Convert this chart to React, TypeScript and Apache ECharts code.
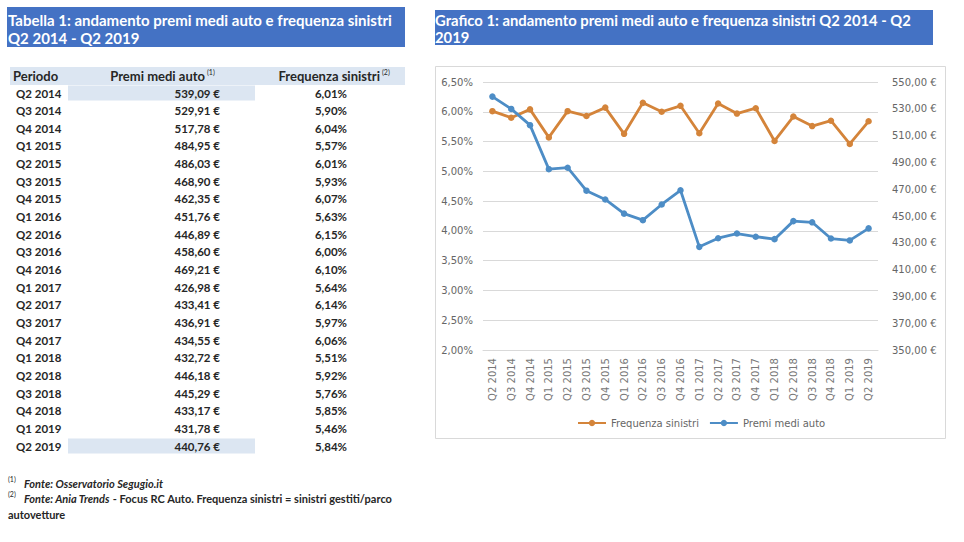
import React, { useEffect, useRef } from 'react';
import * as echarts from 'echarts';

const periods = [
  'Q2 2014', 'Q3 2014', 'Q4 2014', 'Q1 2015', 'Q2 2015', 'Q3 2015', 'Q4 2015',
  'Q1 2016', 'Q2 2016', 'Q3 2016', 'Q4 2016', 'Q1 2017', 'Q2 2017', 'Q3 2017',
  'Q4 2017', 'Q1 2018', 'Q2 2018', 'Q3 2018', 'Q4 2018', 'Q1 2019', 'Q2 2019',
];
const premiMedi = [
  539.09, 529.91, 517.78, 484.95, 486.03, 468.9, 462.35, 451.76, 446.89, 458.6,
  469.21, 426.98, 433.41, 436.91, 434.55, 432.72, 446.18, 445.29, 433.17, 431.78, 440.76,
];
const frequenza = [
  6.01, 5.9, 6.04, 5.57, 6.01, 5.93, 6.07, 5.63, 6.15, 6.0, 6.1, 5.64, 6.14, 5.97,
  6.06, 5.51, 5.92, 5.76, 5.85, 5.46, 5.84,
];
const tableTitle = 'Tabella 1: andamento premi medi auto e frequenza sinistri\nQ2 2014 - Q2 2019';
const chartTitle = 'Grafico 1: andamento premi medi auto e frequenza sinistri Q2 2014 - Q2\n2019';
const headers = ['Periodo', 'Premi medi auto', 'Frequenza sinistri'];

const ORANGE = '#D4843A';
const BLUE = '#4D8DC6';
const TITLE_BLUE = '#4472C4';
const HEAD_BG = '#DCE6F2';
const FONT = 'Lato, "Open Sans", sans-serif';
const AXFONT = '"DejaVu Sans", sans-serif';

const fmt = (v: number) => v.toFixed(2).replace('.', ',');

export default function App() {
  const ref = useRef<HTMLDivElement>(null);
  useEffect(() => {
    document.body.style.margin = '0';
    const chart = echarts.init(ref.current!, null, { renderer: 'svg' });

    const rowY = (i: number) => 93 + i * 17.65;
    const graphics: any[] = [];
    // titles
    graphics.push({ type: 'rect', shape: { x: 7, y: 7, width: 398, height: 40 }, style: { fill: TITLE_BLUE }, silent: true });
    graphics.push({ type: 'text', x: 8, y: 11, style: { text: tableTitle, fill: '#fff', font: `bold 15px ${FONT}`, lineHeight: 18, verticalAlign: 'top' } });
    graphics.push({ type: 'rect', shape: { x: 435, y: 10, width: 498, height: 35 }, style: { fill: TITLE_BLUE }, silent: true });
    graphics.push({ type: 'text', x: 435, y: 11, style: { text: chartTitle, fill: '#fff', font: `bold 14.8px ${FONT}`, lineHeight: 17, verticalAlign: 'top' } });
    // chart border
    graphics.push({ type: 'rect', shape: { x: 435.5, y: 66.5, width: 510, height: 372 }, style: { fill: 'none', stroke: '#D9D9D9', lineWidth: 1 }, silent: true });
    // table header
    graphics.push({ type: 'rect', shape: { x: 10, y: 67, width: 395, height: 18 }, style: { fill: HEAD_BG }, silent: true });
    graphics.push({ type: 'text', x: 13, y: 76, style: { text: headers[0], fill: '#262626', font: `bold 13px ${FONT}`, verticalAlign: 'middle' } });
    graphics.push({ type: 'text', x: 205, y: 76, style: { text: headers[1], fill: '#262626', font: `bold 13px ${FONT}`, align: 'right', verticalAlign: 'middle' } });
    graphics.push({ type: 'text', x: 207, y: 72, style: { text: '(1)', fill: '#262626', font: `7px ${FONT}`, verticalAlign: 'middle' } });
    graphics.push({ type: 'text', x: 380, y: 76, style: { text: headers[2], fill: '#262626', font: `bold 13px ${FONT}`, align: 'right', verticalAlign: 'middle' } });
    graphics.push({ type: 'text', x: 382, y: 72, style: { text: '(2)', fill: '#262626', font: `7px ${FONT}`, verticalAlign: 'middle' } });
    // highlight cells
    [0, periods.length - 1].forEach((i) => {
      graphics.push({ type: 'rect', shape: { x: 68, y: rowY(i) - 7.5, width: 187, height: 15 }, style: { fill: HEAD_BG }, silent: true });
    });
    periods.forEach((p, i) => {
      const y = rowY(i);
      graphics.push({ type: 'text', x: 16, y, style: { text: p, fill: '#262626', font: `bold 11.5px ${FONT}`, verticalAlign: 'middle' } });
      graphics.push({ type: 'text', x: 220, y, style: { text: `${fmt(premiMedi[i])} €`, fill: '#262626', font: `bold 11.5px ${FONT}`, align: 'right', verticalAlign: 'middle' } });
      graphics.push({ type: 'text', x: 347, y, style: { text: `${fmt(frequenza[i])}%`, fill: '#262626', font: `bold 11.5px ${FONT}`, align: 'right', verticalAlign: 'middle' } });
    });
    // footnotes
    graphics.push({ type: 'text', x: 8, y: 479, style: { text: '(1)', fill: '#262626', font: `7px ${FONT}`, verticalAlign: 'middle' } });
    graphics.push({ type: 'text', x: 24, y: 483, style: { text: 'Fonte: Osservatorio Segugio.it', fill: '#262626', font: `italic bold 11px ${FONT}`, verticalAlign: 'middle' } });
    graphics.push({ type: 'text', x: 8, y: 494, style: { text: '(2)', fill: '#262626', font: `7px ${FONT}`, verticalAlign: 'middle' } });
    graphics.push({
      type: 'text', x: 24, y: 498,
      style: {
        text: '{i|Fonte: Ania Trends}{b| - Focus RC Auto. Frequenza sinistri = sinistri gestiti/parco}',
        rich: {
          i: { fill: '#262626', font: `italic bold 11px ${FONT}` },
          b: { fill: '#262626', font: `bold 11px ${FONT}` },
        },
        verticalAlign: 'middle',
      },
    });
    graphics.push({ type: 'text', x: 8, y: 514, style: { text: 'autovetture', fill: '#262626', font: `bold 11px ${FONT}`, verticalAlign: 'middle' } });

    chart.setOption({
      animation: false,
      backgroundColor: '#fff',
      grid: { left: 483, right: 86, top: 82, bottom: 192, containLabel: false },
      legend: {
        left: 572, top: 413, itemWidth: 28, itemHeight: 8, itemGap: 10,
        textStyle: { fontSize: 10, color: '#666', fontFamily: AXFONT },
        data: ['Frequenza sinistri', 'Premi medi auto'],
      },
      xAxis: {
        type: 'category', data: periods, boundaryGap: true,
        axisLine: { show: true, lineStyle: { color: '#D9D9D9' } },
        axisTick: { show: false },
        axisLabel: { rotate: 90, interval: 0, fontSize: 10, color: '#777', margin: 8, fontFamily: AXFONT },
      },
      yAxis: [
        {
          type: 'value', min: 2, max: 6.5, interval: 0.5, position: 'left',
          axisLine: { show: false }, axisTick: { show: false },
          splitLine: { lineStyle: { color: '#D9D9D9' } },
          axisLabel: { formatter: (v: number) => `${fmt(v)}%`, fontSize: 10, color: '#666', margin: 10, fontFamily: AXFONT },
        },
        {
          type: 'value', min: 350, max: 550, interval: 20, position: 'right',
          axisLine: { show: false }, axisTick: { show: false },
          splitLine: { show: false },
          axisLabel: { formatter: (v: number) => `${fmt(v)} €`, fontSize: 10, color: '#666', margin: 14, fontFamily: AXFONT },
        },
      ],
      series: [
        {
          name: 'Frequenza sinistri', type: 'line', yAxisIndex: 0, data: frequenza,
          color: ORANGE, lineStyle: { width: 2.8 }, symbol: 'circle', symbolSize: 6.5,
        },
        {
          name: 'Premi medi auto', type: 'line', yAxisIndex: 1, data: premiMedi,
          color: BLUE, lineStyle: { width: 2.8 }, symbol: 'circle', symbolSize: 6.5,
        },
      ],
      graphic: graphics,
    });
    return () => chart.dispose();
  }, []);
  return <div ref={ref} style={{ position: 'absolute', left: 0, top: 0, width: 964, height: 542, background: '#fff' }} />;
}
